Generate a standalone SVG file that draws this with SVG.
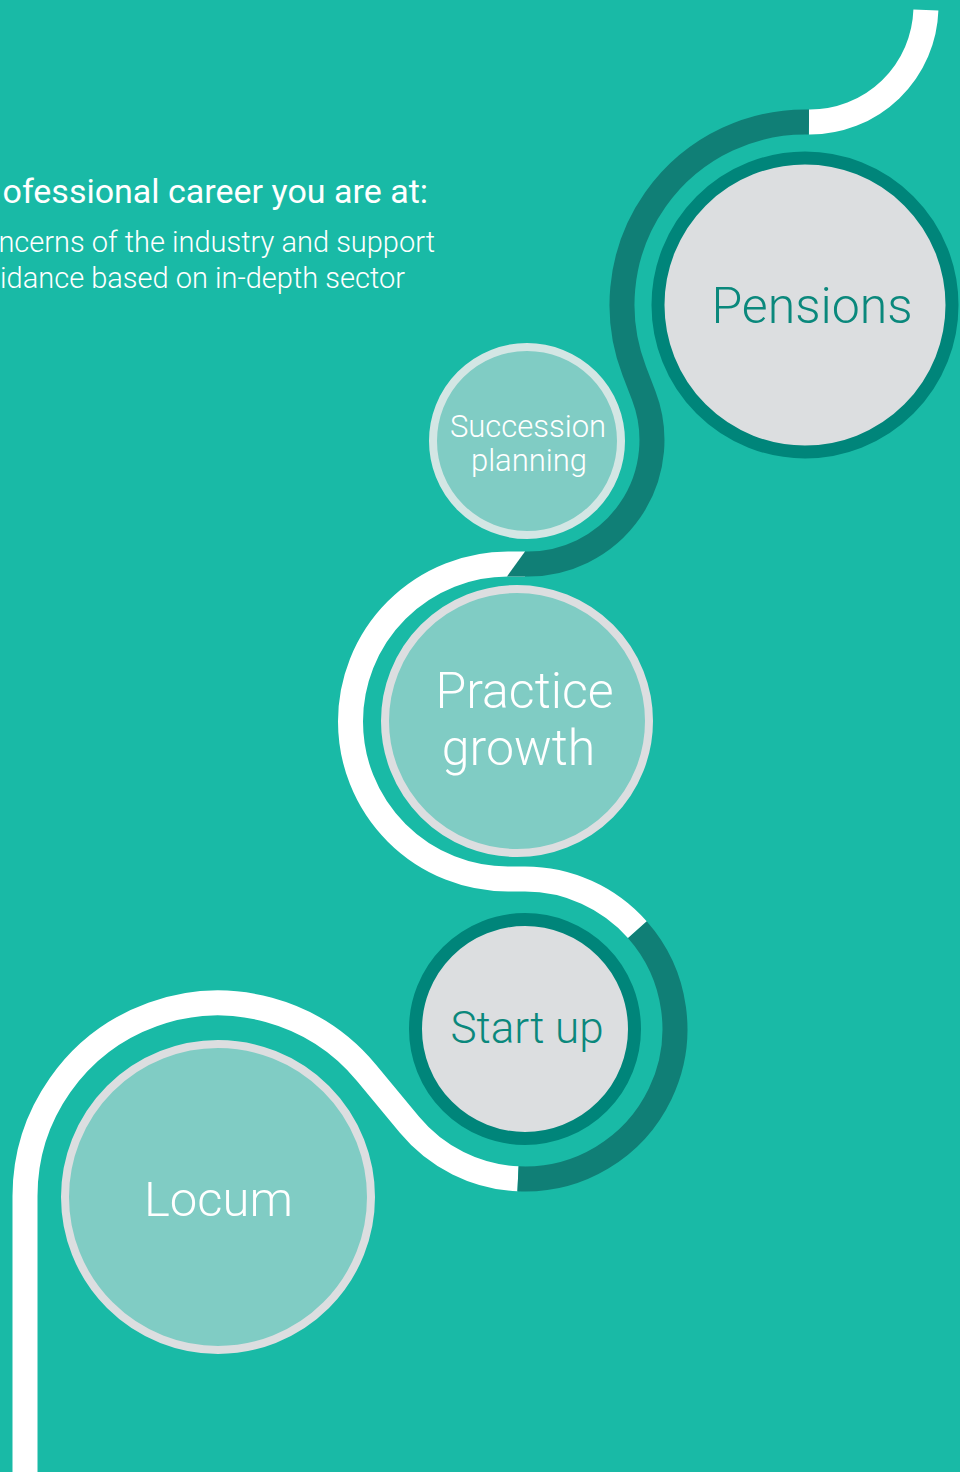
<svg xmlns="http://www.w3.org/2000/svg" width="960" height="1472" viewBox="0 0 960 1472">
<style>
.wp{fill:none;stroke:#FFFFFF;stroke-width:25}
.dp{fill:none;stroke:#107F76;stroke-width:25}
.ring{fill:#DCDEE0;stroke:#00857A;stroke-width:13}
.soft{fill:#80CCC4;stroke:#DCDEE0;stroke-width:8}
.t{font-family:Roboto,"Liberation Sans",sans-serif;font-weight:300;text-anchor:middle}
.intro{font-family:Roboto,"Liberation Sans",sans-serif;fill:#FFFFFF;text-anchor:end}
</style>
<rect x="0" y="0" width="960" height="1472" fill="#19BAA6"/>
<g id="intro">
<text class="intro" x="428" y="203" font-size="34" font-weight="400">ofessional career you are at:</text>
<text class="intro" x="435" y="252" font-size="29" font-weight="300">ncerns of the industry and support</text>
<text class="intro" x="405" y="288" font-size="29" font-weight="300">idance based on in-depth sector</text>
</g>
<g id="connectors">
<path class="wp" d="M 25 1472 L 25 1196 A 193 193 0 0 1 366.6 1072.9 L 409.5 1124.7 A 150 150 0 0 0 518 1178.8"/>
<path class="dp" d="M 518 1178.8 A 150 150 0 0 0 637.3 929.6"/>
<path class="wp" d="M 637.3 929.6 A 150 150 0 0 0 525 879 L 508 879 A 157.5 157.5 0 0 1 508 564 L 525 564"/>
<polygon points="525,551.5 525,576.5 507,576.5" fill="#107F76"/>
<path class="dp" d="M 525 564 L 528 564 A 124 124 0 0 0 643.7 395.5 L 634.2 370.7 A 183 183 0 0 1 809 122"/>
<path class="wp" d="M 809 122 L 810 122 A 116 116 0 0 0 925.9 10"/>
</g>
<g id="pensions">
<circle class="ring" cx="805" cy="305" r="147"/>
<text class="t" x="812" y="323" font-size="50" fill="#0A887C">Pensions</text>
</g>
<g id="succession-planning">
<circle cx="527" cy="441" r="94" fill="#80CCC4" stroke="#D3E6E4" stroke-width="8"/>
<text class="t" x="528" y="437" font-size="31" fill="#FFFFFF">Succession</text>
<text class="t" x="529" y="471" font-size="31" fill="#FFFFFF">planning</text>
</g>
<g id="practice-growth">
<circle class="soft" cx="517" cy="721" r="132"/>
<text class="t" x="524.5" y="708" font-size="50" fill="#FFFFFF">Practice</text>
<text class="t" x="518.5" y="765" font-size="50" fill="#FFFFFF">growth</text>
</g>
<g id="start-up">
<circle class="ring" cx="525" cy="1029" r="109.5"/>
<text class="t" x="527" y="1043" font-size="44" fill="#0A887C">Start up</text>
</g>
<g id="locum">
<circle class="soft" cx="218" cy="1197" r="153"/>
<text class="t" x="218.5" y="1216" font-size="49" fill="#FFFFFF">Locum</text>
</g>
</svg>
